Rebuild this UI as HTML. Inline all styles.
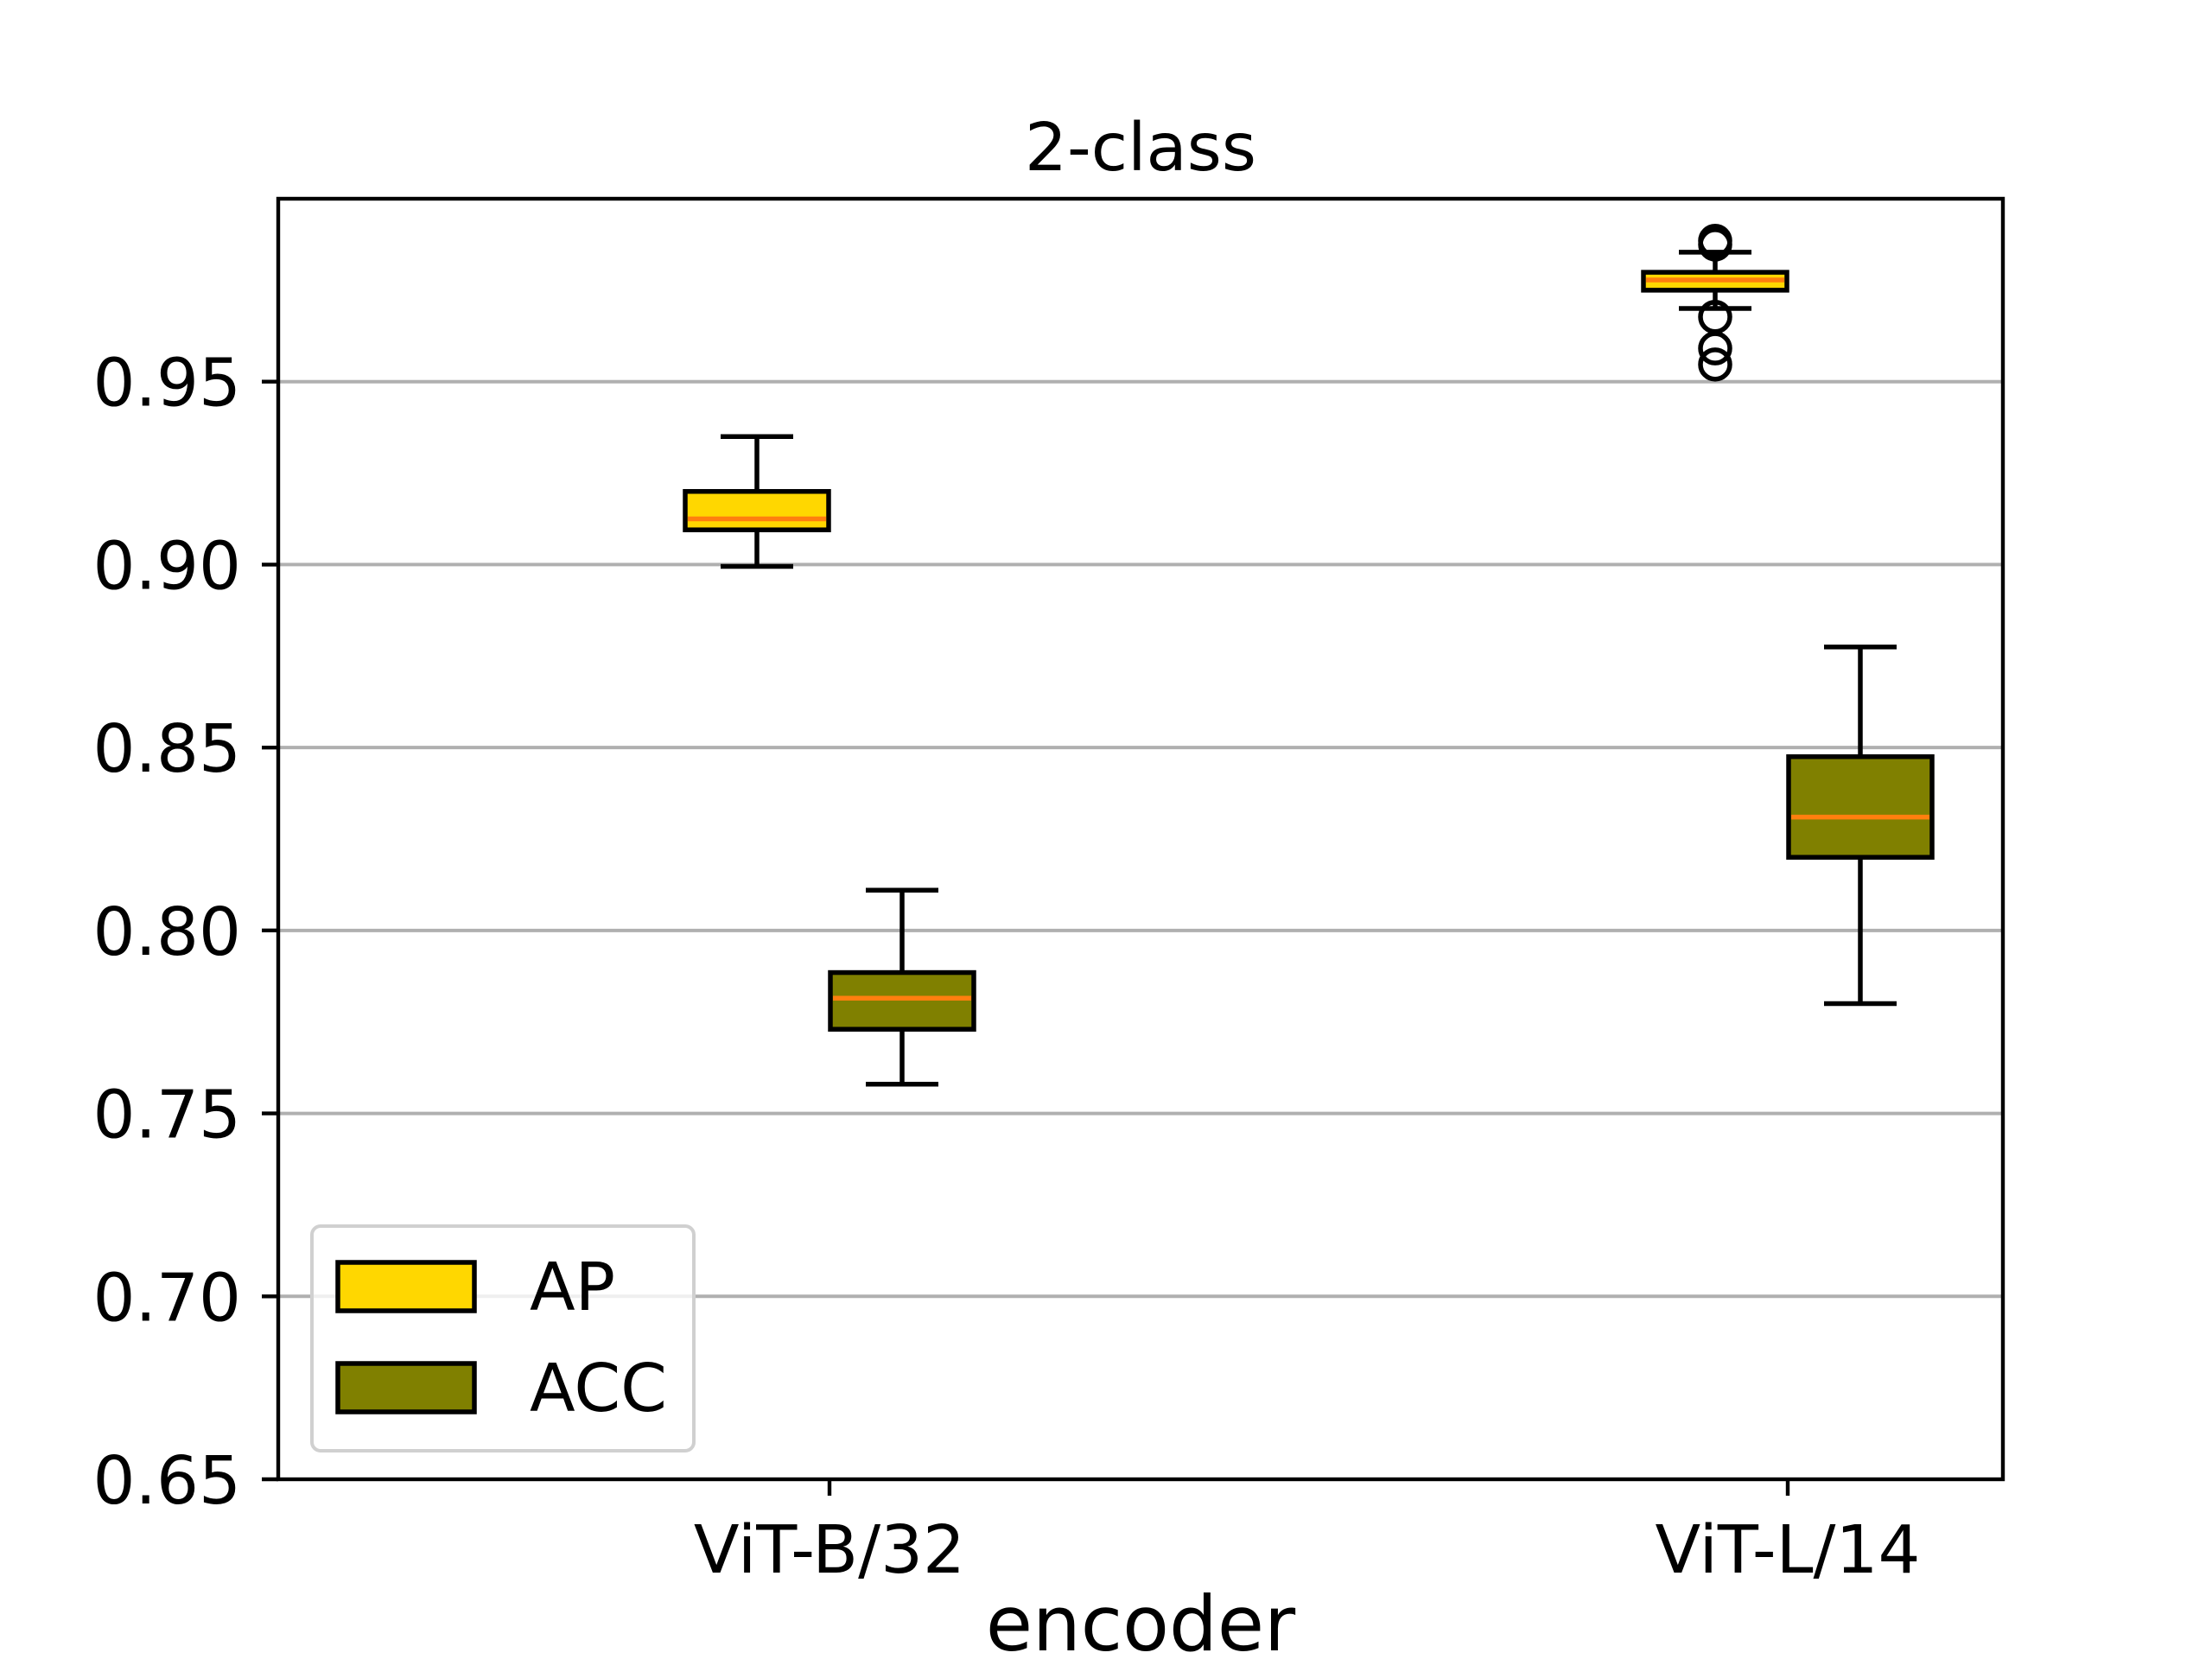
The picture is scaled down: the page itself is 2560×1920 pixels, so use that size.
<!DOCTYPE html>
<html><head><meta charset="utf-8"><style>
html,body{margin:0;padding:0;background:#fff;}
svg{display:block;font-family:"DejaVu Sans","Liberation Sans",sans-serif;}
</style></head><body>
<svg id="chart" width="2560" height="1920" viewBox="0 0 2560 1920" xmlns="http://www.w3.org/2000/svg">
<rect width="2560" height="1920" fill="#fff"/>
<g id="grid"></g>
<g id="boxes"></g>
<rect x="322" y="230" width="1996" height="1482" fill="none" stroke="#000" stroke-width="4.4"/>
<g id="yticks"></g>
<g id="xticks"></g>
<text x="1320" y="197" text-anchor="middle" font-size="77">2-class</text>
<text x="1320" y="1910" text-anchor="middle" font-size="88">encoder</text>
<g>
<rect x="361" y="1419" width="442" height="260" rx="10" fill="#fff" fill-opacity="0.8" stroke="#d0d0d0" stroke-width="4"/>
<rect x="391" y="1461" width="158" height="56" fill="#FFD700" stroke="#000" stroke-width="5.5"/>
<text x="613" y="1516" font-size="77">AP</text>
<rect x="391" y="1578" width="158" height="56" fill="#808000" stroke="#000" stroke-width="5.5"/>
<text x="613" y="1633" font-size="77">ACC</text>
</g>
</svg>
<script>
const categories = ["ViT-B/32", "ViT-L/14"];
const series = ["AP", "ACC"];
const seriesColors = ["#FFD700", "#808000"];
// [whiskerLow, q1, median, q3, whiskerHigh]
const apStats = [[0.8995, 0.9095, 0.9125, 0.920, 0.935], [0.970, 0.975, 0.9778, 0.9799, 0.9854]];
const accStats = [[0.758, 0.773, 0.7815, 0.7885, 0.811], [0.780, 0.820, 0.831, 0.8475, 0.8775]];
const apOutliers = [[], [0.9875, 0.9885, 0.9677, 0.9591, 0.9547]];
const accOutliers = [[], []];
const yTicks = [0.65, 0.70, 0.75, 0.80, 0.85, 0.90, 0.95];
const yTickLabels = ["0.65", "0.70", "0.75", "0.80", "0.85", "0.90", "0.95"];

const NS = "http://www.w3.org/2000/svg";
const X0 = 322, X1 = 2318, Y0 = 230, Y1 = 1712, YMIN = 0.65, YMAX = 1.0;
function yScale(v){ return Y1 - (v - YMIN) / (YMAX - YMIN) * (Y1 - Y0); }
function xScale(i){ return 960 + i * (2069 - 960); }
function mk(tag, attrs, parent){ const e = document.createElementNS(NS, tag); for (const k in attrs) e.setAttribute(k, attrs[k]); parent.appendChild(e); return e; }

const grid = document.getElementById("grid");
const yt = document.getElementById("yticks");
yTicks.forEach((v, i) => {
  const y = yScale(v);
  if (i > 0) {
    const g = mk("line", {x1: X0, x2: X1, y1: y, y2: y, stroke: "#b0b0b0", "stroke-width": 4}, grid);
    
    
  }
  const t = mk("line", {x1: X0 - 19, x2: X0, y1: y, y2: y, stroke: "#000", "stroke-width": 4.4}, yt);
  
  
  const l = mk("text", {x: 279, y: y + 28, "text-anchor": "end", "font-size": 77}, yt);
  l.textContent = yTickLabels[i];
  
  
});
const xt = document.getElementById("xticks");
categories.forEach((c, i) => {
  const x = xScale(i);
  const t = mk("line", {x1: x, x2: x, y1: Y1, y2: Y1 + 19, stroke: "#000", "stroke-width": 4.4}, xt);
  
  
  const l = mk("text", {x: x, y: 1820, "text-anchor": "middle", "font-size": 77}, xt);
  l.textContent = c;
  
  
});

const boxes = document.getElementById("boxes");
const allStats = [apStats, accStats], allOut = [apOutliers, accOutliers];
const BW = 166, OFF = 84;
allStats.forEach((st, s) => {
  categories.forEach((c, i) => {
    const cx = xScale(i) + (s === 0 ? -OFF : OFF);
    const [lo, q1, md, q3, hi] = st[i];
    const g = mk("g", {}, boxes);
    
    
    mk("line", {x1: cx, x2: cx, y1: yScale(hi), y2: yScale(q3), stroke: "#000", "stroke-width": 5.5}, g);
    mk("line", {x1: cx, x2: cx, y1: yScale(q1), y2: yScale(lo), stroke: "#000", "stroke-width": 5.5}, g);
    mk("line", {x1: cx - 42, x2: cx + 42, y1: yScale(hi), y2: yScale(hi), stroke: "#000", "stroke-width": 5.5}, g);
    mk("line", {x1: cx - 42, x2: cx + 42, y1: yScale(lo), y2: yScale(lo), stroke: "#000", "stroke-width": 5.5}, g);
    mk("rect", {x: cx - BW/2, y: yScale(q3), width: BW, height: yScale(q1) - yScale(q3), fill: seriesColors[s], stroke: "#000", "stroke-width": 5.5}, g);
    mk("line", {x1: cx - BW/2 + 3, x2: cx + BW/2 - 3, y1: yScale(md), y2: yScale(md), stroke: "#ff7f0e", "stroke-width": 5.5}, g);
    allOut[s][i].forEach(v => {
      const o = mk("circle", {cx: cx, cy: yScale(v), r: 17, fill: "none", stroke: "#000", "stroke-width": 5.5}, g);
      
      
    });
  });
});
</script>
</body></html>
